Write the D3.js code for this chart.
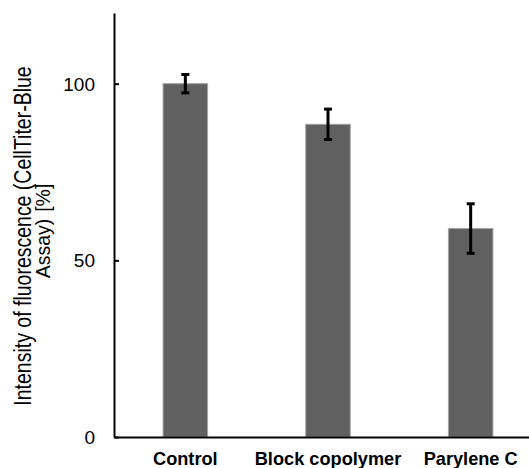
<!DOCTYPE html>
<html>
<head>
<meta charset="utf-8">
<script src="https://cdn.jsdelivr.net/npm/d3@7"></script>
<style>
  html, body { margin: 0; padding: 0; background: #fff; }
  svg { display: block; font-family: "Liberation Sans", Arial, sans-serif; }
</style>
</head>
<body>
<svg id="chart" width="529" height="468"></svg>
<script>
const categories = ["Control", "Block copolymer", "Parylene C"];
const means = [100, 88.5, 59];
const errors = [2.6, 4.3, 7];
const yTicks = [0, 50, 100];
const yTitleLines = ["Intensity of fluorescence (CellTiter-Blue", "Assay) [%]"];

const svg = d3.select("#chart");
const data = categories.map((c, i) => ({ c, m: means[i], e: errors[i] }));

const y = d3.scaleLinear().domain([0, 120]).range([437, 13]);
const x = d3.scaleBand().domain(categories).range([114, 542]).paddingInner(0.688).paddingOuter(0.344);

// bars
svg.append("g").selectAll("rect").data(data).join("rect")
  .attr("x", d => x(d.c))
  .attr("y", d => y(d.m))
  .attr("width", x.bandwidth())
  .attr("height", d => y(0) - y(d.m))
  .attr("fill", "#606060")
  .attr("stroke", "#a3a3a3")
  .attr("stroke-width", 1);

// error bars
const eb = svg.append("g").selectAll("g").data(data).join("g");
eb.append("line")
  .attr("x1", d => x(d.c) + x.bandwidth() / 2)
  .attr("x2", d => x(d.c) + x.bandwidth() / 2)
  .attr("y1", d => y(d.m + d.e))
  .attr("y2", d => y(d.m - d.e))
  .attr("stroke", "#000").attr("stroke-width", 3);
eb.selectAll("line.cap").data(d => [{d, v: d.m + d.e}, {d, v: d.m - d.e}]).join("line")
  .attr("class", "cap")
  .attr("x1", o => x(o.d.c) + x.bandwidth() / 2 - 4)
  .attr("x2", o => x(o.d.c) + x.bandwidth() / 2 + 4)
  .attr("y1", o => y(o.v))
  .attr("y2", o => y(o.v))
  .attr("stroke", "#000").attr("stroke-width", 3);

// y axis
const yAxis = svg.append("g").attr("transform", "translate(114,0)")
  .call(d3.axisLeft(y).tickValues(yTicks).tickSizeInner(-5).tickSizeOuter(0).tickPadding(19));
yAxis.select(".domain").attr("stroke", "#000").attr("stroke-width", 2);
yAxis.selectAll(".tick line").attr("stroke", "#000").attr("stroke-width", 2);
yAxis.selectAll(".tick text").attr("font-size", "19px").attr("fill", "#000")
  .attr("font-family", "Liberation Sans, Arial, sans-serif").attr("dy", "0.35em");

// x axis
const xAxis = svg.append("g").attr("transform", "translate(0,437)")
  .call(d3.axisBottom(x).tickSizeInner(0).tickSizeOuter(0).tickPadding(0));
xAxis.select(".domain").attr("stroke", "#000").attr("stroke-width", 2);
xAxis.selectAll(".tick text").attr("font-size", "18.2px").attr("font-weight", "bold")
  .attr("fill", "#000").attr("font-family", "Liberation Sans, Arial, sans-serif")
  .attr("dy", 0).attr("y", 28);

// y title: first line is slightly compressed along its length in the reference
svg.append("text")
  .attr("transform", "translate(0,236) rotate(-90) scale(1,1.18)")
  .attr("text-anchor", "middle")
  .attr("font-size", "19.5px")
  .attr("fill", "#000")
  .attr("x", 0).attr("y", 26.5)
  .text(yTitleLines[0]);
svg.append("text")
  .attr("transform", "translate(0,231) rotate(-90)")
  .attr("text-anchor", "middle")
  .attr("font-size", "19.5px")
  .attr("fill", "#000")
  .attr("word-spacing", "1.5px")
  .attr("x", 0).attr("y", 49.5)
  .text(yTitleLines[1]);
</script>
</body>
</html>
